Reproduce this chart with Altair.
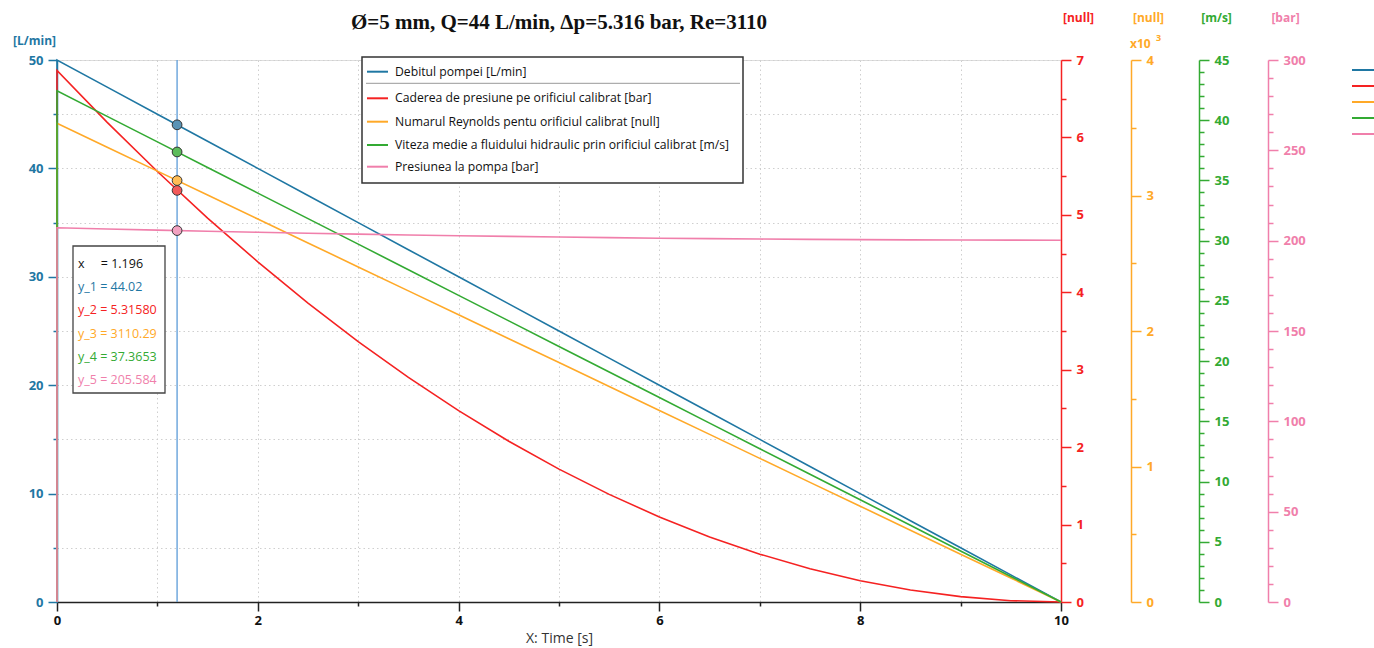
import altair as alt
import pandas as pd

# ---------------- data ----------------
time_s = [0, 0, 0.5, 1.0, 1.5, 2.0, 2.5, 3.0, 3.5, 4.0, 4.5, 5.0, 5.5, 6.0, 6.5, 7.0,
          7.5, 8.0, 8.5, 9.0, 9.5, 10.0]
debit = [0, 50, 47.5, 45, 42.5, 40, 37.5, 35, 32.5, 30, 27.5, 25, 22.5, 20, 17.5, 15,
         12.5, 10, 7.5, 5, 2.5, 0]
cadere = [0, 6.864, 6.195, 5.560, 4.959, 4.393, 3.861, 3.363, 2.900, 2.471, 2.076, 1.716,
          1.390, 1.098, 0.841, 0.618, 0.429, 0.275, 0.154, 0.069, 0.017, 0.0]
reynolds = [0, 3533, 3356, 3180, 3003, 2826, 2650, 2473, 2296, 2120, 1943, 1767, 1590,
            1413, 1237, 1060, 883, 707, 530, 353, 177, 0]
viteza = [0, 42.44, 40.32, 38.20, 36.07, 33.95, 31.83, 29.71, 27.59, 25.46, 23.34, 21.22,
          19.10, 16.98, 14.85, 12.73, 10.61, 8.49, 6.37, 4.24, 2.12, 0]
presiune = [0, 207.13, 206.47, 205.83, 205.23, 204.66, 204.13, 203.63, 203.17, 202.74,
            202.35, 201.99, 201.66, 201.37, 201.11, 200.89, 200.70, 200.55, 200.42,
            200.34, 200.29, 200.27]

series_names = [
    "Debitul pompei [L/min]",
    "Caderea de presiune pe orificiul calibrat [bar]",
    "Numarul Reynolds pentu orificiul calibrat [null]",
    "Viteza medie a fluidului hidraulic prin orificiul calibrat [m/s]",
    "Presiunea la pompa [bar]",
]
series_values = [debit, cadere, reynolds, viteza, presiune]
series_colors = ["#1f77a3", "#f52222", "#ffa928", "#33aa33", "#f07fab"]
marker_fill = ["#5a93b5", "#f25a5a", "#ffbd55", "#5cbc5c", "#f2a2c1"]

cursor_x = 1.196
cursor_vals = [44.02, 5.31580, 3110.29, 37.3653, 205.584]
info_lines = ["x\u00a0\u00a0\u00a0\u00a0 = 1.196", "y_1 = 44.02", "y_2 = 5.31580",
              "y_3 = 3110.29", "y_4 = 37.3653", "y_5 = 205.584"]
info_colors = ["#111111"] + series_colors

title_text = "Ø=5 mm, Q=44 L/min, Δp=5.316 bar, Re=3110"

axis_specs = [
    dict(domain=[0, 50], values=list(range(0, 51, 5)), major="datum.value % 10 == 0",
         lexpr="datum.value % 10 == 0 ? datum.label : ''", orient="left", offset=0,
         title="[L/min]"),
    dict(domain=[0, 7], values=[i * 0.5 for i in range(15)], major="datum.value % 1 == 0",
         lexpr="datum.value % 1 == 0 ? format(datum.value, 'd') : ''", orient="right",
         offset=0, title="[null]"),
    dict(domain=[0, 4000], values=list(range(0, 4001, 500)), major="datum.value % 1000 == 0",
         lexpr="datum.value % 1000 == 0 ? format(datum.value / 1000, 'd') : ''",
         orient="right", offset=70, title="[null]"),
    dict(domain=[0, 45], values=list(range(0, 46)), major="datum.value % 5 == 0",
         lexpr="datum.value % 5 == 0 ? datum.label : ''", orient="right", offset=138,
         title="[m/s]"),
    dict(domain=[0, 300], values=list(range(0, 301, 10)), major="datum.value % 50 == 0",
         lexpr="datum.value % 50 == 0 ? datum.label : ''", orient="right", offset=207,
         title="[bar]"),
]

FONT = "Open Sans"
W, H = 1004, 542
GRID = dict(gridDash=[1.5, 3], gridColor="#cfcfcf", gridWidth=1)

x_enc = alt.X(
    "t:Q",
    scale=alt.Scale(domain=[0, 10], nice=False),
    axis=alt.Axis(
        values=list(range(0, 11)),
        labelExpr="datum.value % 2 == 0 ? datum.label : ''",
        tickSize={"condition": {"test": "datum.value % 2 == 0", "value": 9}, "value": 4},
        tickColor="#222", domainColor="#222", domainWidth=1.5, tickWidth=1.5,
        labelColor="#111", labelFontWeight="bold", labelFontSize=13, labelFont=FONT,
        labelPadding=3, labelFlush=False, labelOverlap=False,
        grid=True, **GRID,
        title="X: Time [s]", titleFont=FONT, titleFontSize=14, titleFontWeight="normal",
        titleColor="#333", titleY=36, titleBaseline="middle",
    ),
)

layers = []
for k, (name, vals, col, spec) in enumerate(zip(series_names, series_values,
                                                  series_colors, axis_specs)):
    df = pd.DataFrame({"t": time_s, "v": vals, "i": list(range(len(vals))),
                       "series": name})
    is_left = spec["orient"] == "left"
    ax = alt.Axis(
        orient=spec["orient"], offset=spec["offset"], values=spec["values"],
        labelExpr=spec["lexpr"],
        tickSize={"condition": {"test": spec["major"], "value": 9 if is_left else 10},
                  "value": 4 if is_left else 5},
        tickColor=col, domainColor=col, domainWidth=1.5, tickWidth=1.5,
        labelColor=col, labelFontWeight="bold", labelFontSize=13, labelFont=FONT,
        labelPadding=5, labelFlush=False, labelOverlap=False,
        grid=is_left, **GRID,
        title=spec["title"], titleAngle=0, titleColor=col, titleFont=FONT,
        titleFontSize=12, titleFontWeight="bold", titleAlign="center",
        titleBaseline="middle",
        titleX=-23 if is_left else 17, titleY=-20 if is_left else -43,
    )
    line = alt.Chart(df).mark_line(strokeWidth=1.6, color=col).encode(
        x=x_enc,
        y=alt.Y("v:Q", scale=alt.Scale(domain=spec["domain"], nice=False), axis=ax),
        order=alt.Order("i:Q"),
    )
    layers.append(line)

# crosshair
cross = alt.Chart(pd.DataFrame({"t": [cursor_x]})).mark_rule(
    color="#5b9bd8", strokeWidth=1.3).encode(x=x_enc)
layers.append(cross)

# markers
for val, spec, fc in zip(cursor_vals, axis_specs, marker_fill):
    pt = alt.Chart(pd.DataFrame({"t": [cursor_x], "v": [val]})).mark_point(
        filled=True, size=95, fill=fc, stroke="#333", strokeWidth=1, opacity=1,
        shape="circle").encode(
        x=x_enc,
        y=alt.Y("v:Q", scale=alt.Scale(domain=spec["domain"], nice=False), axis=None),
    )
    layers.append(pt)

one = pd.DataFrame({"a": [0]})

# info box
layers.append(alt.Chart(one).mark_rect(fill="white", stroke="#444", strokeWidth=1.3).encode(
    x=alt.value(16), x2=alt.value(108), y=alt.value(186), y2=alt.value(333)))
for j, (txt, c) in enumerate(zip(info_lines, info_colors)):
    layers.append(alt.Chart(pd.DataFrame({"s": [txt]})).mark_text(
        align="left", baseline="middle", font=FONT, fontSize=12.5, color=c).encode(
        text="s:N", x=alt.value(21), y=alt.value(204 + 23.2 * j)))

# legend box (manual)
layers.append(alt.Chart(one).mark_rect(fill="white", stroke="#333", strokeWidth=1.5).encode(
    x=alt.value(305), x2=alt.value(686), y=alt.value(-3), y2=alt.value(123)))
layers.append(alt.Chart(one).mark_rule(color="#999", strokeWidth=1).encode(
    x=alt.value(309), x2=alt.value(683), y=alt.value(23.3)))
leg_rows = [11.7, 38.3, 61.7, 85.0, 106.7]
for name, col, yy in zip(series_names, series_colors, leg_rows):
    layers.append(alt.Chart(one).mark_rule(color=col, strokeWidth=2).encode(
        x=alt.value(310), x2=alt.value(331), y=alt.value(yy)))
    layers.append(alt.Chart(pd.DataFrame({"s": [name]})).mark_text(
        align="left", baseline="middle", font=FONT, fontSize=12.2, color="#111").encode(
        text="s:N", x=alt.value(338), y=alt.value(yy)))

# far-right series strips
for j, col in enumerate(series_colors):
    layers.append(alt.Chart(one).mark_rule(color=col, strokeWidth=2).encode(
        x=alt.value(1295), x2=alt.value(1330), y=alt.value(10 + 16 * j)))

# orange multiplier
layers.append(alt.Chart(pd.DataFrame({"s": ["x10"]})).mark_text(
    align="left", baseline="middle", font=FONT, fontSize=12, fontWeight="bold",
    color=series_colors[2]).encode(text="s:N", x=alt.value(1073), y=alt.value(-16)))
layers.append(alt.Chart(pd.DataFrame({"s": ["3"]})).mark_text(
    align="left", baseline="middle", font=FONT, fontSize=9, fontWeight="bold",
    color=series_colors[2]).encode(text="s:N", x=alt.value(1099), y=alt.value(-22)))

# title
layers.append(alt.Chart(pd.DataFrame({"s": [title_text]})).mark_text(
    align="center", baseline="middle", font="Liberation Serif", fontSize=21,
    fontWeight="bold", color="#111").encode(text="s:N", x=alt.value(W / 2),
                                             y=alt.value(-37)))

chart = alt.layer(*layers).resolve_scale(y="independent").properties(
    width=W, height=H,
    autosize=alt.AutoSizeParams(type="none"),
    padding={"left": 57, "top": 60, "right": 313, "bottom": 46},
).configure_view(stroke="#dddddd", strokeWidth=1)

chart.save("out.html", embed_options={"renderer": "svg", "actions": False})
